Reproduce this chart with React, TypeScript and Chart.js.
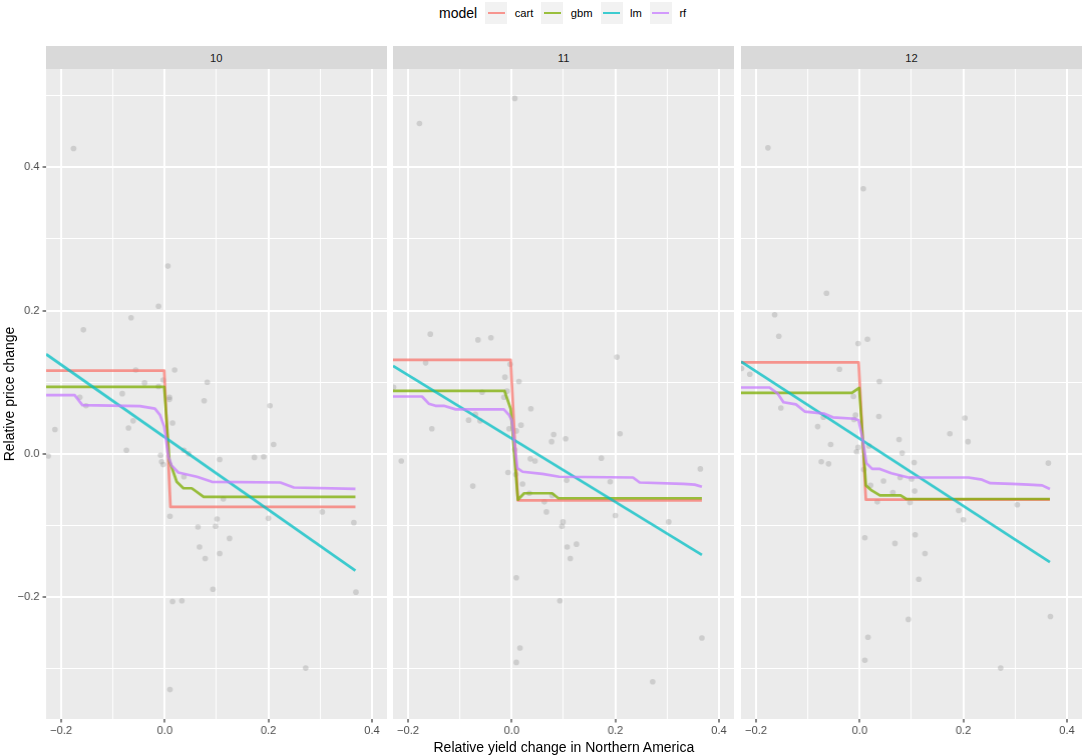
import React, { useEffect, useRef } from 'react';
import { Chart, registerables } from 'chart.js';

Chart.register(...registerables);

type Pt = [number, number];

// facets, models and axis breaks
const facets = ['10', '11', '12'];
const models = ['cart', 'gbm', 'lm', 'rf'];
const modelColors = ['#F8766D', '#7CAE00', '#00BFC4', '#C77CFF'];
const xMajor = [-0.2, 0, 0.2, 0.4];
const xMinor = [-0.1, 0.1, 0.3];
const yMajor = [-0.2, 0, 0.2, 0.4];
const yMinor = [-0.3, -0.1, 0.1, 0.3, 0.5];
const xRange = [-0.229, 0.43];
const yRange = [-0.37, 0.537];

// observed points (x = yield change, y = price change)
const points10: Pt[] = [
  [-0.176, 0.426], [0.006, 0.262], [-0.012, 0.206], [-0.065, 0.19], [-0.157, 0.173],
  [-0.056, 0.117], [0.019, 0.117], [-0.003, 0.103], [-0.039, 0.099], [-0.012, 0.094],
  [0.082, 0.1], [-0.082, 0.084], [0.009, 0.079], [0.009, 0.076], [-0.164, 0.079],
  [-0.152, 0.067], [0.076, 0.074], [0.203, 0.067], [-0.212, 0.034], [-0.07, 0.036],
  [-0.061, 0.046], [0.015, 0.043], [-0.074, 0.005], [0.037, 0.005], [0.046, 0.0],
  [-0.008, -0.002], [-0.006, -0.011], [-0.003, -0.015], [-0.225, -0.003], [0.21, 0.013],
  [0.106, -0.008], [0.173, -0.005], [0.191, -0.004], [0.037, -0.032], [0.113, -0.063],
  [0.304, -0.081], [0.01, -0.087], [0.101, -0.091], [0.2, -0.09], [0.098, -0.101],
  [0.064, -0.102], [0.365, -0.096], [0.125, -0.118], [0.067, -0.13], [0.106, -0.139],
  [0.078, -0.146], [0.093, -0.189], [0.369, -0.193], [0.015, -0.206], [0.033, -0.205],
  [0.272, -0.299], [0.01, -0.329],
];
const points11: Pt[] = [
  [0.006, 0.496], [-0.178, 0.461], [-0.157, 0.167], [-0.065, 0.159], [-0.04, 0.162],
  [0.203, 0.135], [-0.166, 0.127], [-0.228, 0.093], [-0.003, 0.125], [-0.013, 0.107],
  [0.014, 0.101], [-0.057, 0.086], [-0.009, 0.0875], [-0.015, 0.079], [0.037, 0.063],
  [-0.07, 0.055], [-0.083, 0.047], [-0.061, 0.046], [-0.154, 0.035], [-0.005, 0.035],
  [0.009, 0.032], [0.018, 0.04], [0.081, 0.027], [0.104, 0.021], [0.077, 0.017],
  [0.209, 0.028], [-0.213, -0.01], [0.006, 0.006], [0.036, -0.007], [0.045, -0.01],
  [0.173, -0.006], [0.364, -0.021], [-0.007, -0.026], [0.008, -0.029], [-0.075, -0.045],
  [0.021, -0.042], [0.106, -0.037], [0.19, -0.039], [0.034, -0.055], [0.078, -0.058],
  [0.063, -0.067], [0.067, -0.081], [0.2, -0.086], [0.099, -0.095], [0.097, -0.101],
  [0.303, -0.095], [0.107, -0.13], [0.125, -0.126], [0.113, -0.146], [0.009, -0.173],
  [0.093, -0.205], [0.367, -0.257], [0.016, -0.271], [0.009, -0.291], [0.272, -0.318],
];
const points12: Pt[] = [
  [-0.177, 0.427], [0.007, 0.37], [-0.064, 0.224], [-0.164, 0.194], [-0.156, 0.164],
  [-0.003, 0.154], [0.015, 0.16], [-0.228, 0.119], [-0.212, 0.111], [-0.039, 0.118],
  [0.038, 0.101], [-0.012, 0.08], [-0.152, 0.064], [-0.008, 0.054], [-0.011, 0.048],
  [-0.07, 0.051], [0.037, 0.052], [0.203, 0.05], [-0.081, 0.038], [0.174, 0.028],
  [0.076, 0.02], [0.209, 0.017], [-0.056, 0.013], [-0.003, 0.009], [-0.006, 0.003],
  [0.018, 0.011], [0.082, 0.001], [-0.074, -0.011], [-0.06, -0.014], [0.105, -0.012],
  [0.364, -0.013], [0.008, -0.022], [0.078, -0.033], [0.1, -0.035], [0.046, -0.038],
  [0.021, -0.044], [0.106, -0.052], [0.064, -0.054], [0.034, -0.067], [0.097, -0.068],
  [0.304, -0.071], [0.191, -0.079], [0.2, -0.092], [0.01, -0.117], [0.107, -0.113],
  [0.068, -0.125], [0.126, -0.139], [0.114, -0.175], [0.094, -0.231], [0.368, -0.227],
  [0.016, -0.256], [0.01, -0.288], [0.272, -0.299],
];

// model predictions per facet
const cart10: Pt[] = [[-0.229, 0.116], [-0.001, 0.116], [0.011, -0.074], [0.368, -0.074]];
const gbm10: Pt[] = [
  [-0.229, 0.0935], [-0.001, 0.0935], [0.009, -0.01], [0.014, -0.02], [0.023, -0.039],
  [0.036, -0.048], [0.052, -0.048], [0.075, -0.06], [0.368, -0.06],
];
const lm10: Pt[] = [[-0.229, 0.139], [0.368, -0.163]];
const rf10: Pt[] = [
  [-0.229, 0.082], [-0.174, 0.082], [-0.159, 0.068], [-0.048, 0.0665], [-0.019, 0.063],
  [-0.009, 0.054], [-0.001, 0.038], [0.007, -0.004], [0.013, -0.016], [0.026, -0.026],
  [0.062, -0.032], [0.091, -0.039], [0.223, -0.04], [0.249, -0.047], [0.368, -0.049],
];

const cart11: Pt[] = [[-0.229, 0.131], [-0.002, 0.131], [0.012, -0.065], [0.367, -0.065]];
const gbm11: Pt[] = [
  [-0.229, 0.088], [-0.014, 0.088], [-0.002, 0.063], [0.012, -0.064], [0.024, -0.055],
  [0.078, -0.055], [0.09, -0.062], [0.367, -0.062],
];
const lm11: Pt[] = [[-0.229, 0.1227], [0.367, -0.141]];
const rf11: Pt[] = [
  [-0.229, 0.08], [-0.173, 0.08], [-0.16, 0.07], [-0.147, 0.067], [-0.131, 0.067],
  [-0.108, 0.062], [-0.015, 0.062], [-0.005, 0.054], [0.0, 0.047], [0.011, -0.02],
  [0.021, -0.025], [0.059, -0.028], [0.092, -0.032], [0.234, -0.033], [0.247, -0.04],
  [0.331, -0.042], [0.353, -0.043], [0.367, -0.046],
];

const cart12: Pt[] = [[-0.229, 0.1275], [-0.002, 0.1275], [0.012, -0.064], [0.367, -0.064]];
const gbm12: Pt[] = [
  [-0.229, 0.085], [-0.015, 0.085], [-0.001, 0.092], [0.012, -0.044], [0.023, -0.051],
  [0.039, -0.058], [0.079, -0.058], [0.09, -0.063], [0.367, -0.063],
];
const lm12: Pt[] = [[-0.229, 0.1285], [0.367, -0.151]];
const rf12: Pt[] = [
  [-0.229, 0.0926], [-0.174, 0.0926], [-0.158, 0.084], [-0.147, 0.072], [-0.123, 0.069],
  [-0.106, 0.059], [-0.068, 0.056], [-0.052, 0.051], [-0.01, 0.049], [-0.002, 0.047],
  [0.006, 0.019], [0.013, -0.013], [0.024, -0.021], [0.039, -0.021], [0.061, -0.027],
  [0.094, -0.033], [0.21, -0.033], [0.236, -0.036], [0.252, -0.041], [0.294, -0.042],
  [0.326, -0.043], [0.352, -0.044], [0.367, -0.049],
];

const facetPoints = [points10, points11, points12];
const facetLines = [
  [cart10, gbm10, lm10, rf10],
  [cart11, gbm11, lm11, rf11],
  [cart12, gbm12, lm12, rf12],
];

// layout
const FONT = '"Liberation Sans", Arial, Helvetica, sans-serif';
const PANEL_LEFTS = [46, 393.3, 741.2];
const PANEL_W = 340.5;
const STRIP_TOP = 46;
const STRIP_H = 23;
const PLOT_TOP = 69;
const PLOT_H = 650;
const Y_AXIS_W = 46;
const X_AXIS_H = 24;
const LINE_ALPHA = 'BF';

const isMajor = (v: number, majors: number[]) => majors.some((m) => Math.abs(m - v) < 1e-9);
const fmt = (v: number) => (v < -1e-9 ? '\u2212' : '') + Math.abs(v).toFixed(1);
const allTicks = (majors: number[], minors: number[]) =>
  [...majors, ...minors].sort((a, b) => a - b).map((value) => ({ value }));

const panelBg = {
  id: 'panelBg',
  beforeDraw(chart: any) {
    const { ctx, chartArea } = chart;
    ctx.save();
    ctx.fillStyle = '#EBEBEB';
    ctx.fillRect(chartArea.left, chartArea.top, chartArea.right - chartArea.left, chartArea.bottom - chartArea.top);
    ctx.restore();
  },
};

function FacetPanel({ index }: { index: number }) {
  const chartRef = useRef<HTMLCanvasElement>(null);
  const showY = index === 0;
  const axisW = showY ? Y_AXIS_W : 0;

  useEffect(() => {
    if (!chartRef.current) return;
    const ctx = chartRef.current.getContext('2d');
    if (!ctx) return;

    const lines = facetLines[index];
    const tickFont = { family: FONT, size: 11.2 };

    const chart = new Chart(ctx, {
      type: 'scatter',
      data: {
        datasets: [
          ...models.map((m, k) => ({
            label: m,
            data: lines[k].map(([x, y]) => ({ x, y })),
            showLine: true,
            borderColor: modelColors[k] + LINE_ALPHA,
            backgroundColor: modelColors[k] + LINE_ALPHA,
            borderWidth: 2.7,
            pointRadius: 0,
            pointHoverRadius: 0,
            tension: 0,
            fill: false,
            borderJoinStyle: 'round' as const,
            order: 4 - k,
          })),
          {
            label: 'observed',
            data: facetPoints[index].map(([x, y]) => ({ x, y })),
            showLine: false,
            pointRadius: 2.8,
            pointHoverRadius: 2.8,
            pointBorderWidth: 0,
            backgroundColor: 'rgba(150,150,150,0.35)',
            borderColor: 'rgba(0,0,0,0)',
            order: 10,
          },
        ],
      },
      options: {
        animation: false,
        responsive: true,
        maintainAspectRatio: false,
        layout: { padding: 0, autoPadding: false },
        plugins: {
          legend: { display: false },
          tooltip: { enabled: false },
        },
        scales: {
          x: {
            type: 'linear',
            min: xRange[0],
            max: xRange[1],
            afterBuildTicks: (s: any) => { s.ticks = allTicks(xMajor, xMinor); },
            afterFit: (s: any) => {
              s.height = X_AXIS_H;
              s.paddingLeft = 0;
              s.paddingRight = 0;
            },
            border: { display: false },
            grid: {
              color: '#FFFFFF',
              lineWidth: (c: any) => (isMajor(c.tick.value, xMajor) ? 2 : 1),
              drawTicks: true,
              tickLength: 3.5,
              tickWidth: 1.2,
              tickColor: (c: any) => (isMajor(c.tick.value, xMajor) ? '#333333' : 'rgba(0,0,0,0)'),
            },
            ticks: {
              autoSkip: false,
              maxRotation: 0,
              padding: 2,
              color: '#4D4D4D',
              font: tickFont,
              callback: (v: any) => (isMajor(Number(v), xMajor) ? fmt(Number(v)) : ''),
            },
          },
          y: {
            type: 'linear',
            min: yRange[0],
            max: yRange[1],
            afterBuildTicks: (s: any) => { s.ticks = allTicks(yMajor, yMinor); },
            afterFit: (s: any) => {
              s.width = axisW;
              s.paddingTop = 0;
              s.paddingBottom = 0;
            },
            border: { display: false },
            grid: {
              color: '#FFFFFF',
              lineWidth: (c: any) => (isMajor(c.tick.value, yMajor) ? 2 : 1),
              drawTicks: showY,
              tickLength: 3.5,
              tickWidth: 1.2,
              tickColor: (c: any) => (isMajor(c.tick.value, yMajor) ? '#333333' : 'rgba(0,0,0,0)'),
            },
            ticks: {
              display: showY,
              autoSkip: false,
              padding: 3,
              color: '#4D4D4D',
              font: tickFont,
              callback: (v: any) => (isMajor(Number(v), yMajor) ? fmt(Number(v)) : ''),
            },
          },
        },
      } as any,
      plugins: [panelBg],
    });

    return () => {
      chart.destroy();
    };
  }, [index]);

  return (
    <>
      <div
        style={{
          position: 'absolute',
          left: PANEL_LEFTS[index],
          top: STRIP_TOP,
          width: PANEL_W,
          height: STRIP_H,
          background: '#D9D9D9',
          display: 'flex',
          alignItems: 'center',
          justifyContent: 'center',
          fontSize: 11.2,
          color: '#1A1A1A',
        }}
      >
        {facets[index]}
      </div>
      <div
        style={{
          position: 'absolute',
          left: PANEL_LEFTS[index] - axisW,
          top: PLOT_TOP,
          width: PANEL_W + axisW,
          height: PLOT_H + X_AXIS_H,
        }}
      >
        <canvas ref={chartRef} />
      </div>
    </>
  );
}

function Legend() {
  return (
    <div
      style={{
        position: 'absolute',
        left: 439,
        top: 0,
        height: 26,
        display: 'flex',
        alignItems: 'center',
        whiteSpace: 'nowrap',
      }}
    >
      <span style={{ fontSize: 14, color: '#000', marginRight: 8 }}>model</span>
      {models.map((m, k) => (
        <React.Fragment key={m}>
          <div style={{ position: 'relative', width: 22, height: 22, background: '#F2F2F2' }}>
            <div
              style={{
                position: 'absolute',
                left: 2.5,
                right: 2.5,
                top: 9.6,
                height: 2.7,
                background: modelColors[k] + LINE_ALPHA,
              }}
            />
          </div>
          <span style={{ fontSize: 11.2, color: '#000', marginLeft: 7.5, marginRight: 8 }}>{m}</span>
        </React.Fragment>
      ))}
    </div>
  );
}

export default function App() {
  const plotRight = PANEL_LEFTS[2] + PANEL_W;
  const yMid = PLOT_TOP + PLOT_H / 2;
  return (
    <div
      style={{
        position: 'absolute',
        left: 0,
        top: 0,
        width: 1084,
        height: 756,
        background: '#FFFFFF',
        fontFamily: FONT,
        overflow: 'hidden',
      }}
    >
      <Legend />
      {facets.map((f, i) => (
        <FacetPanel key={f} index={i} />
      ))}
      <div
        style={{
          position: 'absolute',
          left: PANEL_LEFTS[0],
          width: plotRight - PANEL_LEFTS[0],
          top: 737,
          lineHeight: '20px',
          textAlign: 'center',
          fontSize: 14,
          color: '#000',
        }}
      >
        Relative yield change in Northern America
      </div>
      <div
        style={{
          position: 'absolute',
          left: 8.7 - PLOT_H / 2,
          top: yMid - 10,
          width: PLOT_H,
          lineHeight: '20px',
          textAlign: 'center',
          fontSize: 14,
          color: '#000',
          transform: 'rotate(-90deg)',
        }}
      >
        Relative price change
      </div>
    </div>
  );
}
